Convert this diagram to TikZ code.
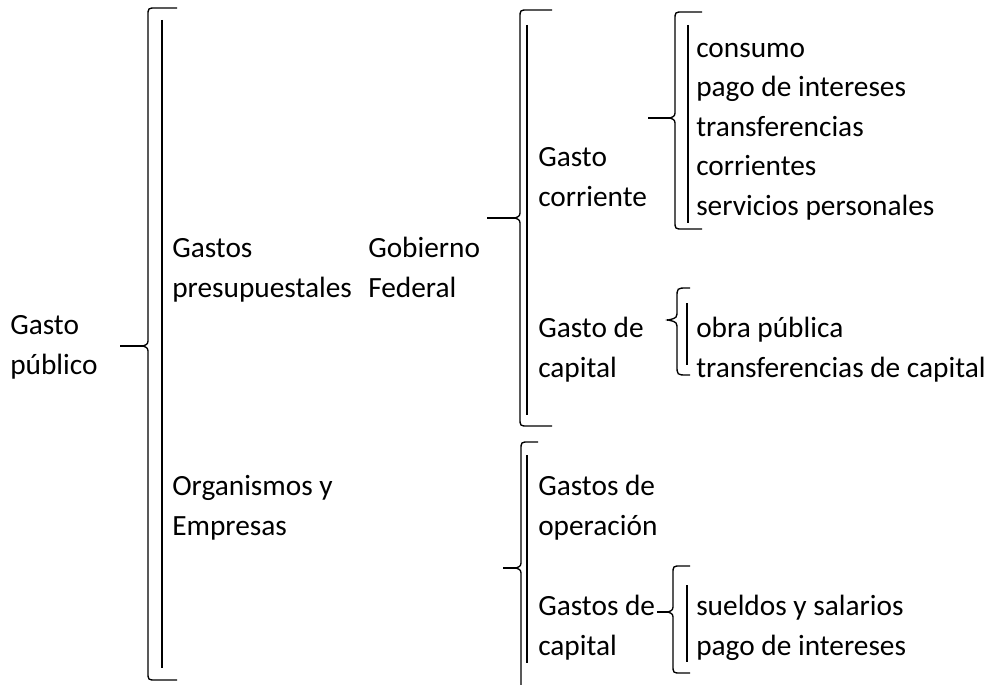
\documentclass[tikz,border=0pt]{standalone}
\usepackage{fontspec}
\setmainfont{Carlito}
% left brace: x, top, mid, bottom, arm end, tick start, corner radius, cusp depth
\newcommand{\llaveizq}[8]{%
  \draw[trazo] (#5,#2) -- ({#1+#7},#2) .. controls (#1,#2) .. (#1,{#2+#7})
    -- (#1,{#3-#7}) .. controls (#1,{#3-2}) .. ({#1-#8},#3)
    .. controls (#1,{#3+2}) .. (#1,{#3+#7})
    -- (#1,{#4-#7}) .. controls (#1,#4) .. ({#1+#7},#4) -- (#5,#4);
  \draw[trazo] (#6,#3) -- ({#1-#8},#3);}
\begin{document}
\begin{tikzpicture}[x=0.75pt,y=-0.75pt,
    lbl/.style={anchor=base west,inner sep=0pt,align=left,
      font=\fontsize{22}{29.6}\selectfont},
    trazo/.style={line width=1pt},
    barra/.style={line width=1.8pt}]
\useasboundingbox (0,0) rectangle (989,685);

% texts (placed at the baseline of their last line)
\node[lbl] (gp) at (10,374) {Gasto\\público};
\node[lbl] (gpres) at (172,297) {Gastos\\presupuestales};
\node[lbl] (gobfed) at (368,297) {Gobierno\\Federal};
\node[lbl] (orgemp) at (172,535) {Organismos y\\Empresas};
\node[lbl] (gcorr) at (538,206) {Gasto\\corriente};
\node[lbl] (gcap) at (538,377) {Gasto de\\capital};
\node[lbl] (gop) at (538,535) {Gastos de\\operación};
\node[lbl] (gcapo) at (538,655) {Gastos de\\capital};
\node[lbl] (lcorr) at (696,215) {consumo\\pago de intereses\\transferencias\\corrientes\\servicios personales};
\node[lbl] (lcap) at (696,377) {obra pública\\transferencias de capital};
\node[lbl] (lsal) at (696,655) {sueldos y salarios\\pago de intereses};

% braces
\llaveizq{148}{8}{346}{680}{177}{120}{8}{5}
\llaveizq{520}{10}{218}{426}{552}{487}{8}{5}
\llaveizq{521}{442}{568}{720}{538}{503}{8}{5}
\llaveizq{675}{12}{118}{229}{702}{648}{8}{5}
\llaveizq{677}{288}{320}{375}{690}{667}{10}{9}
\llaveizq{673}{566}{612}{673}{690}{657}{8}{5}

% bars
\draw[barra] (162,20) -- (162,668);
\draw[barra] (527,25) -- (527,415);
\draw[barra] (527,455) -- (527,663);
\draw[barra] (688,25) -- (688,223);
\draw[barra] (687,303) -- (687,365);
\draw[barra] (687,585) -- (687,662);
\end{tikzpicture}
\end{document}
